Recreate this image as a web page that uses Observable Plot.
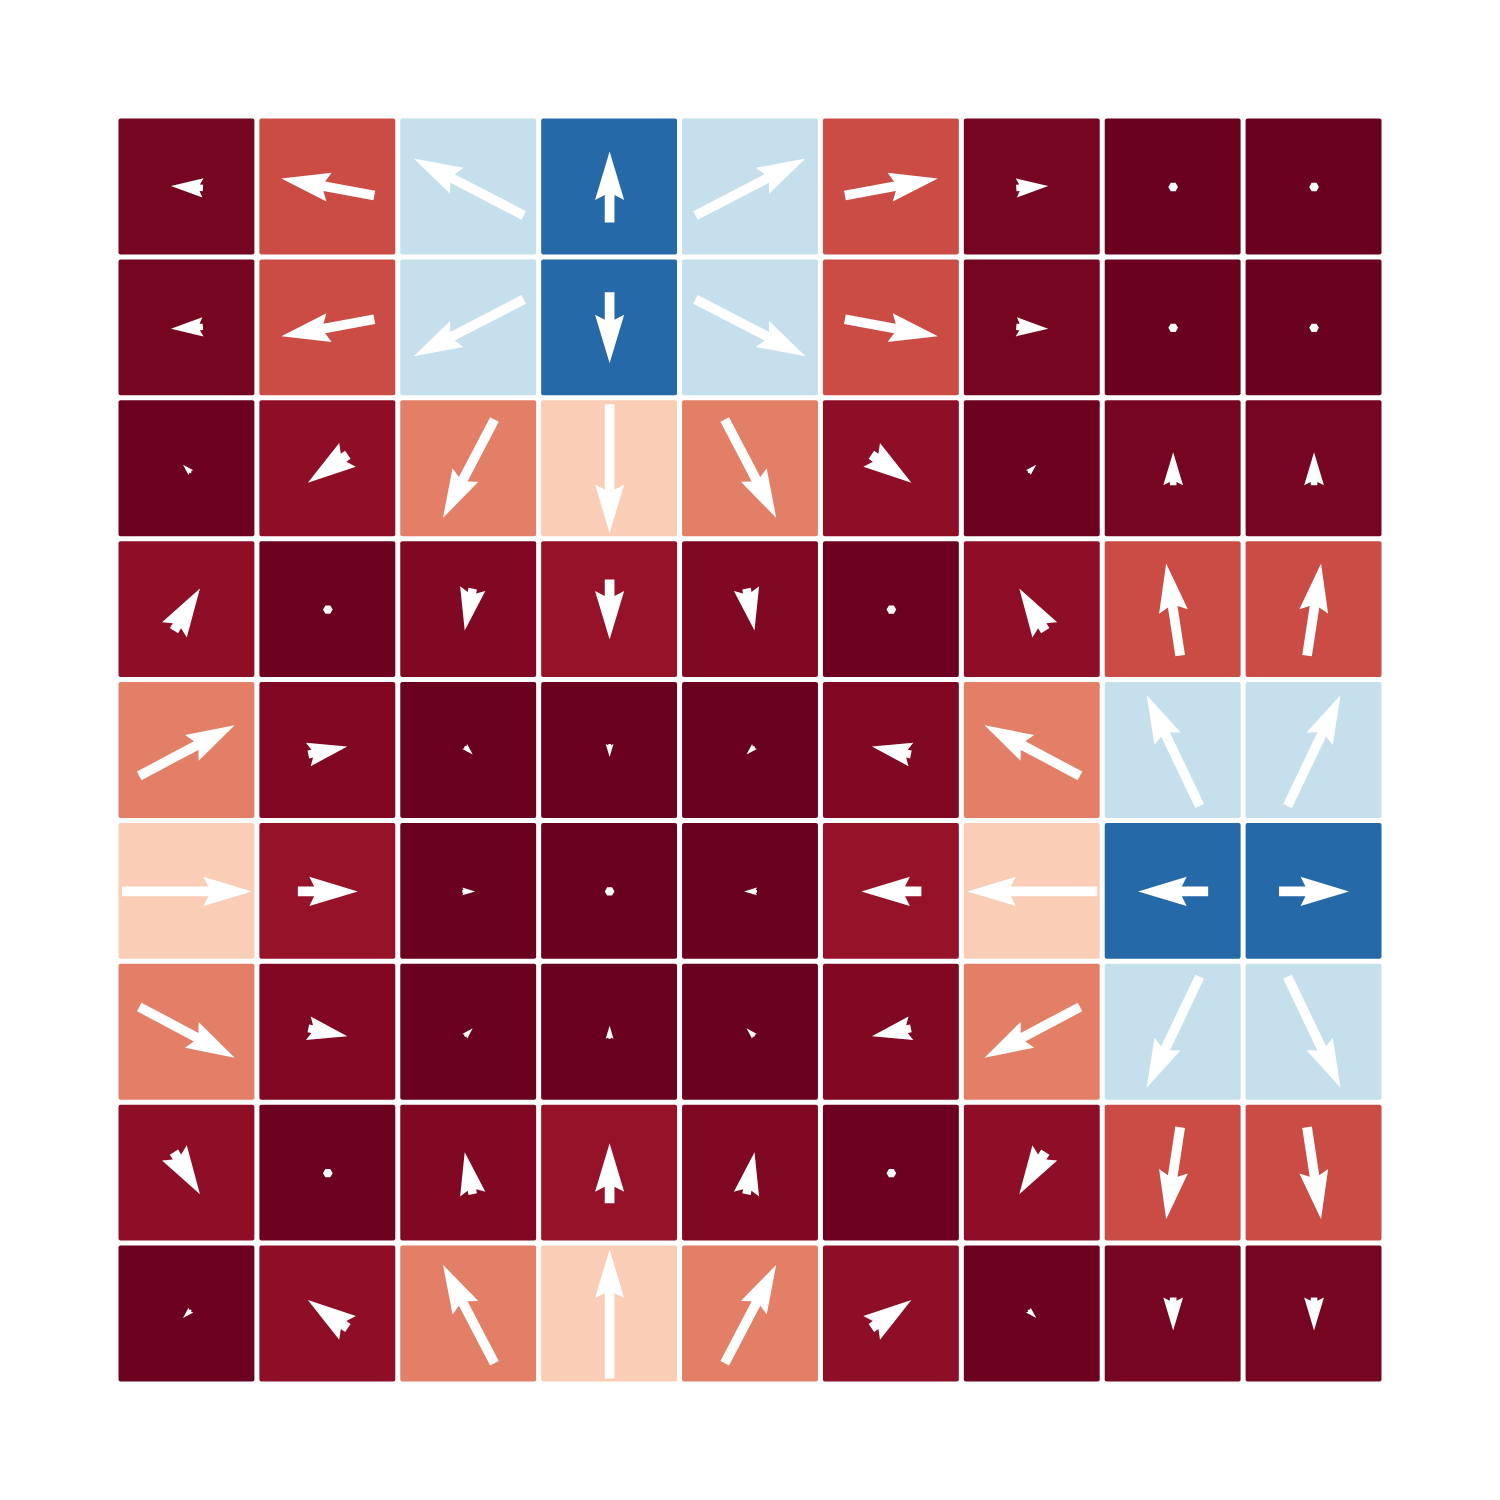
<!DOCTYPE html>
<html>
<head>
<meta charset="utf-8">
<script src="https://cdn.jsdelivr.net/npm/d3@7"></script>
<script src="https://cdn.jsdelivr.net/npm/@observablehq/plot@0.6"></script>
<style>
  html, body { margin: 0; padding: 0; background: #ffffff; }
  svg { display: block; }
</style>
</head>
<body>
<script>
// Grid categories
const rows = [0, 1, 2, 3, 4, 5, 6, 7, 8];
const cols = [0, 1, 2, 3, 4, 5, 6, 7, 8];

// Scalar value per cell (colour), row by row
const value = [
  [0.019, 0.172, 0.615, 0.89, 0.615, 0.172, 0.019, 0.004, 0.004],
  [0.019, 0.172, 0.615, 0.89, 0.615, 0.172, 0.019, 0.004, 0.004],
  [0.008, 0.052, 0.245, 0.378, 0.245, 0.052, 0.008, 0.019, 0.019],
  [0.052, 0.008, 0.033, 0.065, 0.033, 0.008, 0.052, 0.172, 0.172],
  [0.245, 0.033, 0.004, 0.004, 0.004, 0.033, 0.245, 0.615, 0.615],
  [0.378, 0.065, 0.004, 0.004, 0.004, 0.065, 0.378, 0.89, 0.89],
  [0.245, 0.033, 0.004, 0.004, 0.004, 0.033, 0.245, 0.615, 0.615],
  [0.052, 0.008, 0.033, 0.065, 0.033, 0.008, 0.052, 0.172, 0.172],
  [0.008, 0.052, 0.245, 0.378, 0.245, 0.052, 0.008, 0.019, 0.019]
];

// Vector components per cell: u to the right, v upward
const u = [
  [-0.32, -0.93, -1.10, 0, 1.10, 0.93, 0.32, 0.03, 0.03],
  [-0.32, -0.93, -1.10, 0, 1.10, 0.93, 0.32, 0.03, 0.03],
  [-0.08, -0.40, -0.515, 0, 0.515, 0.40, 0.08, 0, 0],
  [0.26, 0.03, -0.08, 0, 0.08, 0.03, -0.26, -0.14, 0.14],
  [0.955, 0.39, 0.08, 0, -0.08, -0.39, -0.955, -0.53, 0.53],
  [1.30, 0.60, 0.13, 0.03, -0.13, -0.60, -1.30, -0.70, 0.70],
  [0.955, 0.39, 0.08, 0, -0.08, -0.39, -0.955, -0.53, 0.53],
  [0.26, 0.03, -0.08, 0, 0.08, 0.03, -0.26, -0.14, 0.14],
  [-0.08, -0.40, -0.515, 0, 0.515, 0.40, 0.08, 0, 0]
];
const v = [
  [0.02, 0.17, 0.57, 0.71, 0.57, 0.17, 0.02, 0, 0],
  [-0.02, -0.17, -0.57, -0.71, -0.57, -0.17, -0.02, 0, 0],
  [0.08, -0.28, -0.985, -1.29, -0.985, -0.28, 0.08, 0.33, 0.33],
  [0.42, 0, -0.42, -0.60, -0.42, 0, 0.42, 0.92, 0.92],
  [0.507, 0.08, -0.08, -0.13, -0.08, 0.08, 0.507, 1.11, 1.11],
  [0, 0, 0, 0, 0, 0, 0, 0, 0],
  [-0.507, -0.08, 0.08, 0.13, 0.08, -0.08, -0.507, -1.11, -1.11],
  [-0.42, 0, 0.42, 0.60, 0.42, 0, -0.42, -0.92, -0.92],
  [-0.08, 0.28, 0.985, 1.29, 0.985, 0.28, -0.08, -0.33, -0.33]
];

// Build the table the marks read from
const table = [];
rows.forEach((r, i) => cols.forEach((c, j) => {
  const uu = u[i][j], vv = v[i][j];
  table.push({
    row: r, col: c, value: value[i][j], u: uu, v: vv,
    mag: Math.hypot(uu, vv),
    angle: Math.atan2(uu, vv) * 180 / Math.PI
  });
}));

// Quiver-style filled arrow (drawn pointing up, -y), r = shaft width
const quiver = {
  draw(ctx, L, r) {
    const w = r;
    const minsh = 5 * w;
    if (L < w) {
      const cy = -L / 2;
      for (let k = 0; k < 6; k++) {
        const th = k * Math.PI / 3;
        const px = Math.sin(th) * w / 2, py = cy - Math.cos(th) * w / 2;
        if (k) ctx.lineTo(px, py); else ctx.moveTo(px, py);
      }
      ctx.closePath();
      return;
    }
    let A, B;
    if (L < minsh) {
      const s = L / minsh;
      A = [0, 0.5, 0, 5, 0, 0.5, 0].map(a => a * w * s);
      B = [0.5, 0.5, 1.5, 0, -1.5, -0.5, -0.5].map(b => b * w * s);
    } else {
      A = [0, L - 4.5 * w, L - 5 * w, L, L - 5 * w, L - 4.5 * w, 0];
      B = [0.5, 0.5, 1.5, 0, -1.5, -0.5, -0.5].map(b => b * w);
    }
    A.forEach((a, i) => { if (i) ctx.lineTo(B[i], -a); else ctx.moveTo(B[i], -a); });
    ctx.closePath();
  }
};

const chart = Plot.plot({
  width: 1500,
  height: 1500,
  marginTop: 116,
  marginBottom: 116,
  marginLeft: 116,
  marginRight: 116,
  style: {background: "#ffffff"},
  x: {type: "band", domain: cols, padding: 0, round: false, axis: null},
  y: {type: "band", domain: rows, padding: 0, round: false, axis: null},
  color: {type: "linear", scheme: "RdBu", domain: [0, 1]},
  length: {domain: [0, 1], range: [0, 100]},
  marks: [
    Plot.cell(table, {x: "col", y: "row", fill: "value", inset: 2.5, rx: 2}),
    Plot.vector(table, {
      x: "col", y: "row", length: "mag", rotate: "angle",
      anchor: "middle", shape: quiver, r: 9.7,
      fill: "white", stroke: "none"
    })
  ]
});
document.body.appendChild(chart);
</script>
</body>
</html>
